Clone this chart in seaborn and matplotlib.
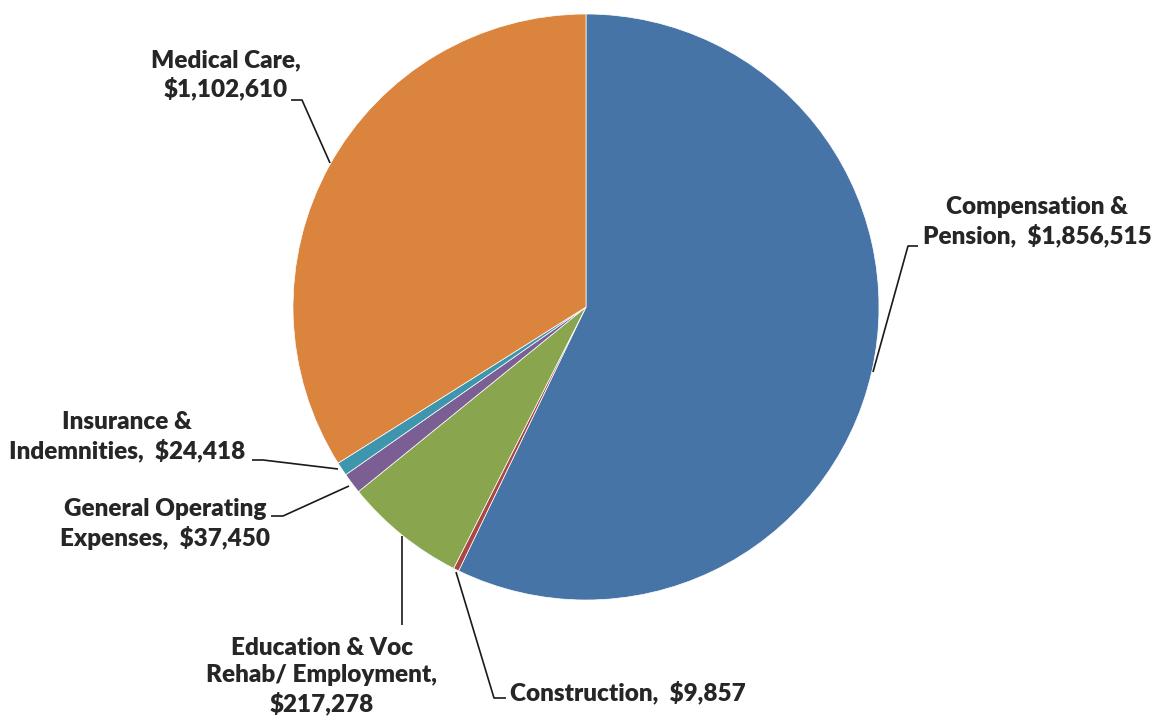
import matplotlib
matplotlib.use("Agg")
import matplotlib.pyplot as plt
import seaborn as sns

# VA spending by category (thousands of dollars)
categories = ["Compensation & Pension", "Construction", "Education & Voc Rehab/ Employment",
              "General Operating Expenses", "Insurance & Indemnities", "Medical Care"]
values = [1856515, 9857, 217278, 37450, 24418, 1102610]
label_texts = ["Compensation &\nPension,  $1,856,515",
               "Construction,  $9,857",
               "Education & Voc\nRehab/ Employment,\n$217,278",
               "General Operating\nExpenses,  $37,450",
               "Insurance &\nIndemnities,  $24,418",
               "Medical Care,\n$1,102,610"]
colors = ["#4674A7", "#AA4643", "#89A54E", "#7B5F94", "#3D96AE", "#DB843D"]

sns.set_theme(style="white")
plt.rcParams["font.family"] = ["Lato", "DejaVu Sans"]

W, H = 1154, 719
fig = plt.figure(figsize=(W / 100, H / 100), dpi=100)
ax = fig.add_axes([0, 0, 1, 1])

cx, cy, r = 586, H - 307, 293
ax.pie(values, colors=colors, startangle=90, counterclock=False,
       center=(cx, cy), radius=r, frame=True,
       wedgeprops=dict(linewidth=0.5, edgecolor="white"))
ax.set_xlim(0, W)
ax.set_ylim(0, H)
ax.set_aspect("equal")
ax.axis("off")

def Y(y):
    return H - y

# leader lines (pixel-space polylines) and label anchors
leaders = [
    [(873, 372), (908, 246), (918, 246)],
    [(456, 572), (494, 698), (506, 698)],
    [(402, 536), (402, 625)],
    [(349, 486), (283, 516), (271, 516)],
    [(338, 469), (263, 460), (252, 460)],
    [(330, 163), (302, 100), (291, 100)],
]
anchors = [
    (1037, 222, "center"),
    (510, 692, "left"),
    (322, 676, "center"),
    (165, 524, "center"),
    (127, 437, "center"),
    (226, 75, "center"),
]

for pts, (x, y, ha), txt in zip(leaders, anchors, label_texts):
    ax.plot([p[0] for p in pts], [Y(p[1]) for p in pts], color="#1a1a1a", lw=1.2,
            solid_capstyle="butt")
    ax.text(x, Y(y), txt, ha=ha, va="center", multialignment="center",
            fontsize=17.5, fontweight="heavy", color="#262626", linespacing=1.3)

fig.savefig("out.png", dpi=100, facecolor="white")
